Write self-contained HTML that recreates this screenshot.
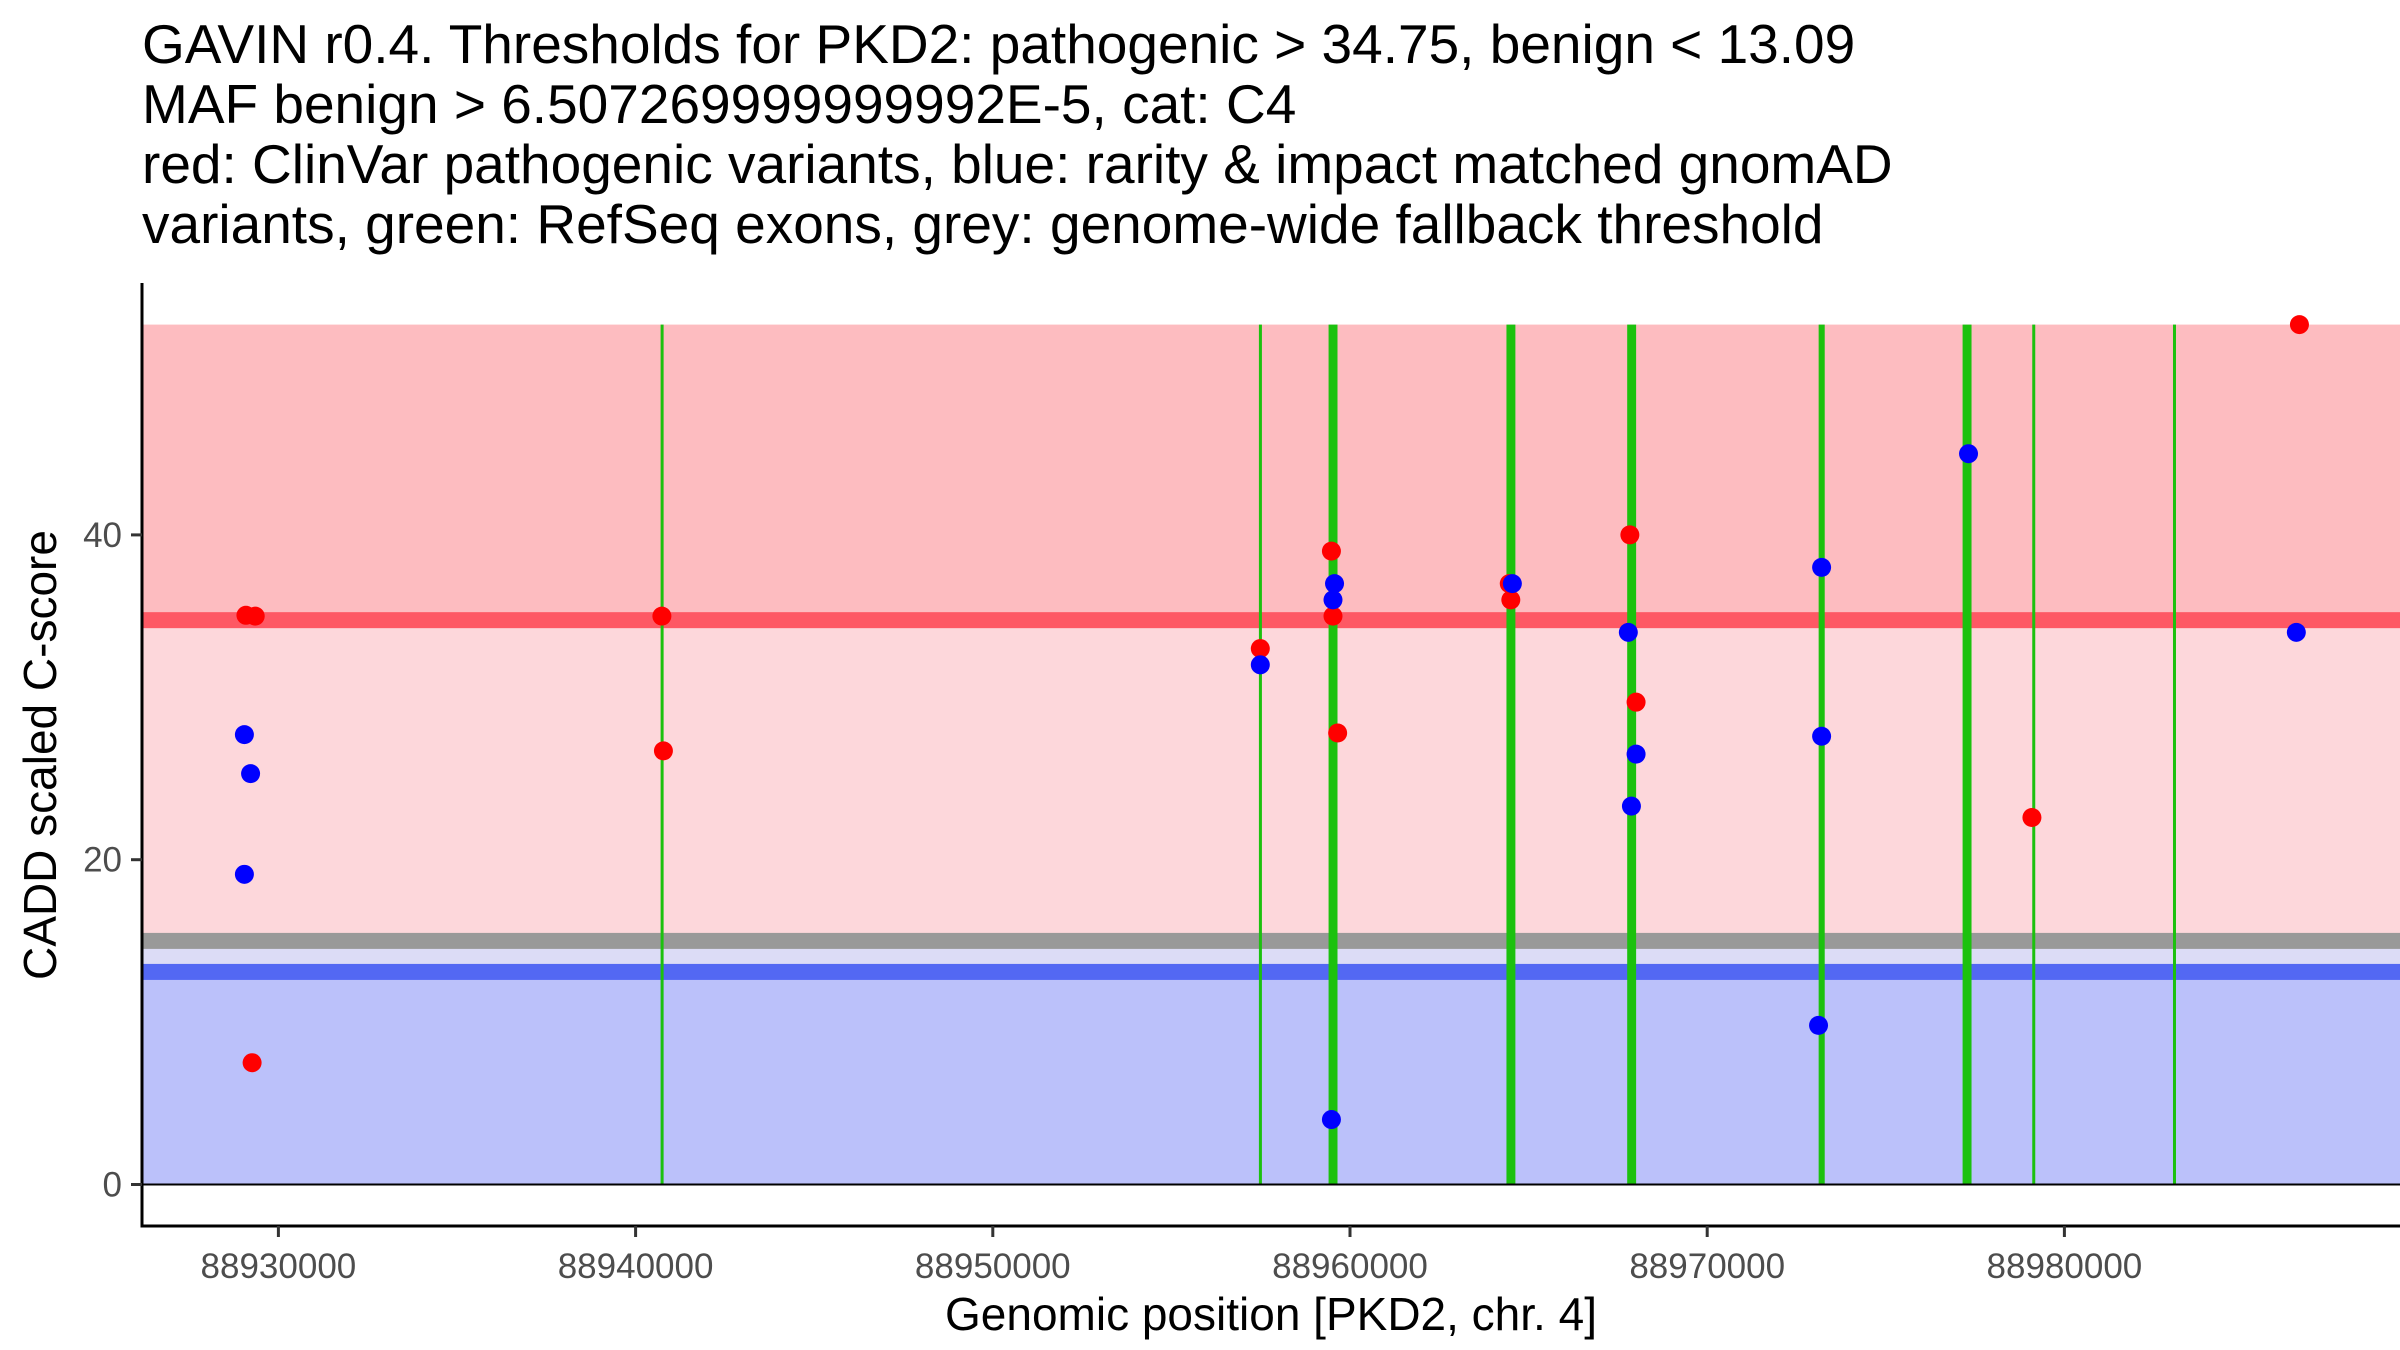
<!DOCTYPE html>
<html><head><meta charset="utf-8"><style>
html,body{margin:0;padding:0;background:#fff;}
svg{display:block;font-family:"Liberation Sans",Arial,sans-serif;}
</style></head><body>
<svg id="chart" width="2400" height="1350" viewBox="0 0 2400 1350" xmlns="http://www.w3.org/2000/svg">
<g font-size="55" fill="#000">
<text x="142" y="63">GAVIN r0.4. Thresholds for PKD2: pathogenic &gt; 34.75, benign &lt; 13.09</text>
<text x="142" y="123">MAF benign &gt; 6.507269999999992E-5, cat: C4</text>
<text x="142" y="183">red: ClinVar pathogenic variants, blue: rarity &amp; impact matched gnomAD</text>
<text x="142" y="243">variants, green: RefSeq exons, grey: genome-wide fallback threshold</text>
</g>
<g id="bg"></g>
<g id="exons"></g>
<g id="pts"></g>
<g id="axes"></g>
<text x="1271" y="1330" font-size="46" text-anchor="middle">Genomic position [PKD2, chr. 4]</text>
<text transform="translate(56,755) rotate(-90)" font-size="46" text-anchor="middle">CADD scaled C-score</text>
</svg>
<script>
const pathoThreshold = 34.75;
const benignThreshold = 13.09;
const fallbackThreshold = 15;
const yMaxValue = 52.95;
const xTicks = [88930000, 88940000, 88950000, 88960000, 88970000, 88980000];
const yTicks = [0, 20, 40];
const exonStart = [88940700, 88957450, 88959400, 88964380, 88967760, 88973120, 88977150, 88979100, 88983040];
const exonEnd   = [88940770, 88957530, 88959650, 88964630, 88968010, 88973290, 88977400, 88979170, 88983110];
const redX = [88929091, 88929351, 88929264, 88940736, 88940779, 88957489, 88959480, 88959524, 88959654, 88964459, 88964502, 88967835, 88968009, 88979091, 88986580];
const redY = [35.05, 35, 7.5, 35, 26.7, 33, 39, 35, 27.8, 37, 36, 40, 29.7, 22.6, 52.95];
const blueX = [88929048, 88929221, 88929048, 88957489, 88959567, 88959524, 88959480, 88964545, 88967792, 88968009, 88967879, 88973203, 88973203, 88973117, 88977316, 88986493];
const blueY = [27.7, 25.3, 19.1, 32, 37, 36, 4, 37, 34, 26.5, 23.3, 38, 27.6, 9.8, 45, 34];

const NS = 'http://www.w3.org/2000/svg';
const L = 142, R = 2400, AXB = 1226, AXT = 283;
const xs = v => 278.4 + (v - 88930000) * (357.2 / 10000);
const ys = v => 1184.5 - v * 16.24;
function mk(tag, parent, attrs) {
  const e = document.createElementNS(NS, tag);
  for (const k in attrs) e.setAttribute(k, attrs[k]);
  document.getElementById(parent).appendChild(e);
  return e;
}
let e;
e = mk('rect', 'bg', {x: L, y: ys(yMaxValue), width: R - L, height: ys(pathoThreshold) - ys(yMaxValue), fill: '#fdbcc0'});


e = mk('rect', 'bg', {x: L, y: ys(pathoThreshold), width: R - L, height: ys(fallbackThreshold) - ys(pathoThreshold), fill: '#fdd7db'});


e = mk('rect', 'bg', {x: L, y: ys(fallbackThreshold), width: R - L, height: ys(benignThreshold) - ys(fallbackThreshold), fill: '#dcdcf6'});


e = mk('rect', 'bg', {x: L, y: ys(benignThreshold), width: R - L, height: ys(0) - ys(benignThreshold), fill: '#bbc1fa'});


e = mk('rect', 'bg', {x: L, y: ys(pathoThreshold) - 8, width: R - L, height: 16, fill: '#fe5864'});


e = mk('rect', 'bg', {x: L, y: ys(fallbackThreshold) - 8, width: R - L, height: 16, fill: '#999999'});


e = mk('rect', 'bg', {x: L, y: ys(benignThreshold) - 8, width: R - L, height: 16, fill: '#5368f3'});



for (let i = 0; i < exonStart.length; i++) {
  const x0 = xs(exonStart[i]), x1 = xs(exonEnd[i]);
  e = mk('rect', 'exons', {x: x0, y: ys(yMaxValue), width: Math.max(3, x1 - x0), height: ys(0) - ys(yMaxValue), fill: '#1cc10e'});
  
  
}
e = mk('line', 'exons', {x1: L, x2: R, y1: ys(0), y2: ys(0), stroke: '#000', 'stroke-width': 2});



for (let i = 0; i < redX.length; i++) {
  e = mk('circle', 'pts', {cx: xs(redX[i]), cy: ys(redY[i]), r: 9.5, fill: '#ff0000'});
  
  
}
for (let i = 0; i < blueX.length; i++) {
  e = mk('circle', 'pts', {cx: xs(blueX[i]), cy: ys(blueY[i]), r: 9.5, fill: '#0000ff'});
  
  
}

e = mk('line', 'axes', {x1: L, x2: L, y1: AXT, y2: AXB + 1.5, stroke: '#000', 'stroke-width': 3});


e = mk('line', 'axes', {x1: L - 1.5, x2: R, y1: AXB, y2: AXB, stroke: '#000', 'stroke-width': 3});


for (const t of yTicks) {
  e = mk('line', 'axes', {x1: L - 11, x2: L, y1: ys(t), y2: ys(t), stroke: '#333', 'stroke-width': 3});
  
  
  e = mk('text', 'axes', {x: L - 20, y: ys(t) + 12, 'font-size': 35, fill: '#4d4d4d', 'text-anchor': 'end'});
  e.textContent = t;
  
  
}
for (const t of xTicks) {
  e = mk('line', 'axes', {x1: xs(t), x2: xs(t), y1: AXB, y2: AXB + 11, stroke: '#333', 'stroke-width': 3});
  
  
  e = mk('text', 'axes', {x: xs(t), y: AXB + 52, 'font-size': 35, fill: '#4d4d4d', 'text-anchor': 'middle'});
  e.textContent = t;
  
  
}
</script>
</body></html>
